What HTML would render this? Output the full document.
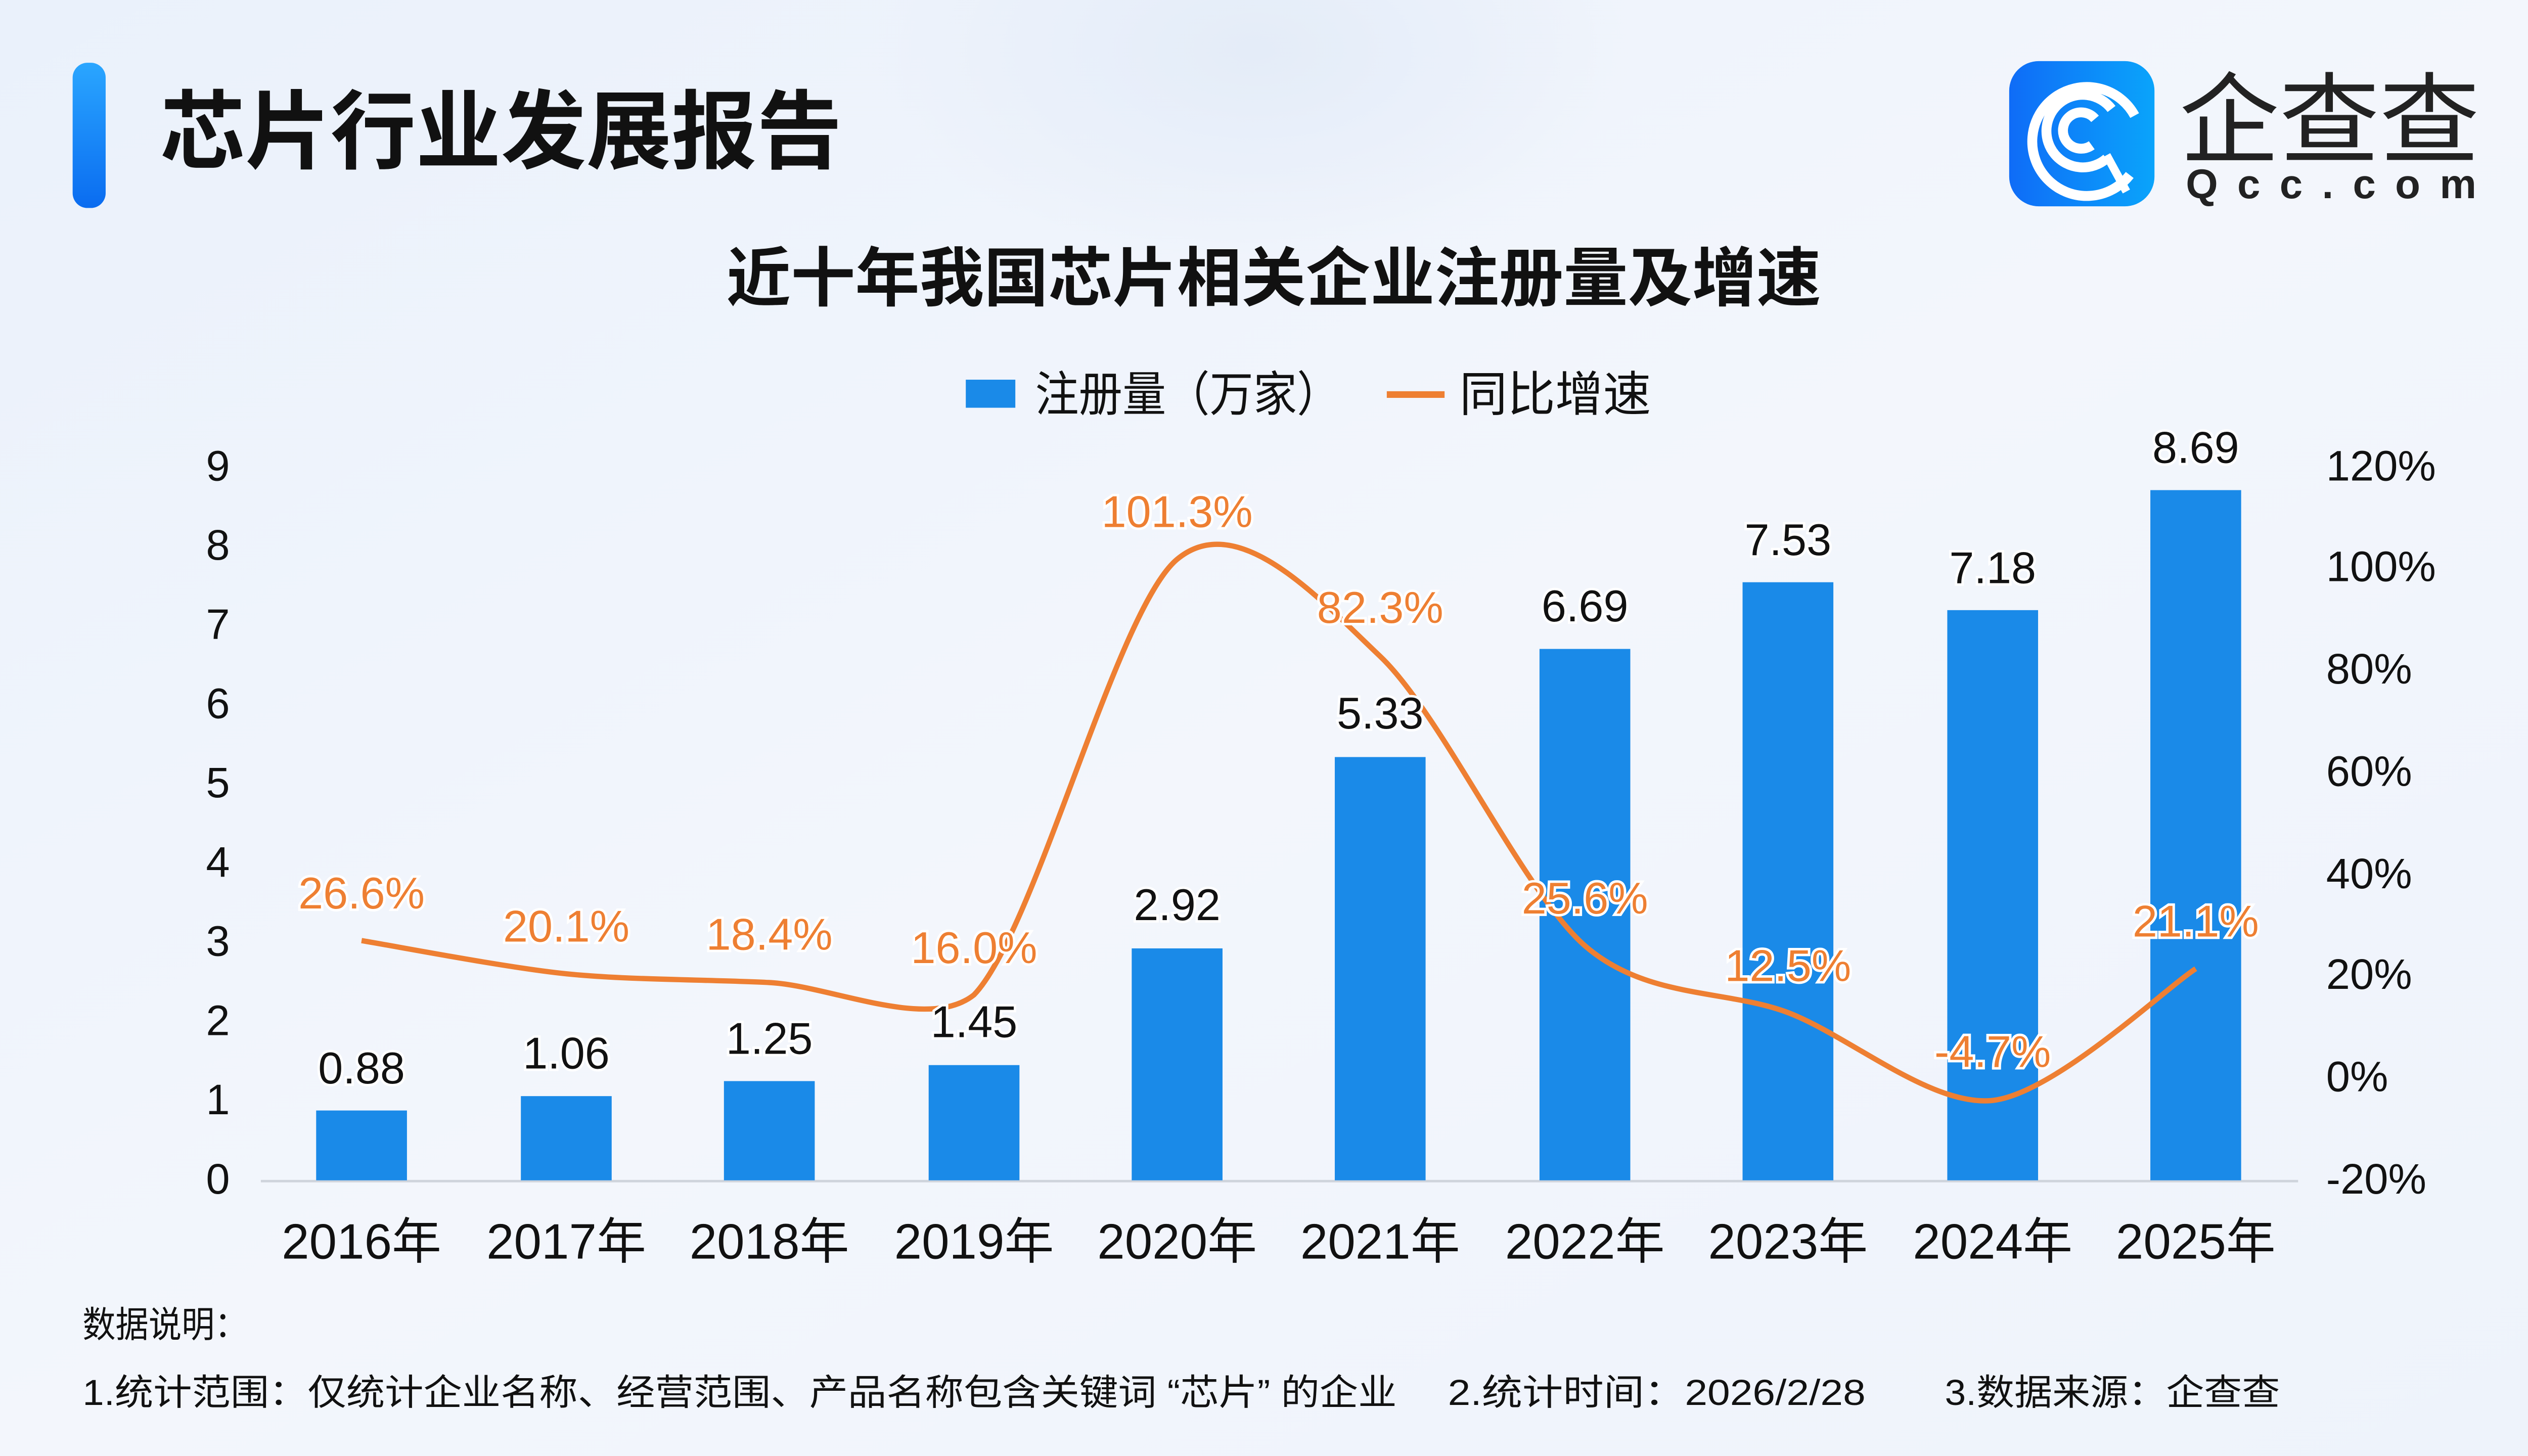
<!DOCTYPE html>
<html><head><meta charset="utf-8"><style>
html,body{margin:0;padding:0;width:5120px;height:2880px;overflow:hidden;background:#eef3fb}
svg{display:block}
text{font-family:"Liberation Sans","Noto Sans CJK SC",sans-serif}
</style></head><body>
<svg width="5120" height="2880" viewBox="0 0 1568 882" xmlns="http://www.w3.org/2000/svg">
<defs>
<linearGradient id="bg" x1="0" y1="0" x2="1" y2="1"><stop offset="0" stop-color="#eaf1fb"/><stop offset="0.5" stop-color="#f3f6fc"/><stop offset="1" stop-color="#eef3fb"/></linearGradient>
<radialGradient id="glow" cx="0.5" cy="0.5" r="0.5"><stop offset="0" stop-color="#e4ecf8"/><stop offset="1" stop-color="#e4ecf8" stop-opacity="0"/></radialGradient>
<linearGradient id="bar" x1="0" y1="0" x2="0" y2="1"><stop offset="0" stop-color="#2aa6ff"/><stop offset="1" stop-color="#0a6cf0"/></linearGradient>
<linearGradient id="logo" x1="0" y1="0" x2="1" y2="0"><stop offset="0" stop-color="#0f6cf7"/><stop offset="1" stop-color="#0aa4fb"/></linearGradient>
</defs>
<rect width="1568" height="882" fill="url(#bg)"/>
<ellipse cx="760" cy="30" rx="230" ry="130" fill="url(#glow)"/>
<rect x="44" y="38" width="20" height="88" rx="9" fill="url(#bar)"/>
<text x="97" y="98" font-size="52" font-weight="bold" fill="#111" textLength="413" lengthAdjust="spacingAndGlyphs">芯片行业发展报告</text>
<!-- logo -->
<rect x="1217" y="37" width="88" height="88" rx="18" fill="url(#logo)"/>
<g fill="none" stroke="#fff" stroke-width="6">
<path d="M1290 106 A33 33 0 1 1 1293 70"/>
<path d="M1276 96 A22 22 0 1 1 1279 66"/>
<path d="M1267 88 A11 11 0 1 1 1269 72"/>
<path d="M1276 94 L1288 116" stroke-width="5"/>
</g>
<text x="1320" y="94" font-size="60" fill="#222" textLength="182" lengthAdjust="spacingAndGlyphs">企查查</text>
<text x="1324" y="120" font-size="25" font-weight="bold" fill="#222" textLength="176" lengthAdjust="spacing">Qcc.com</text>
<!-- chart title -->
<text x="440" y="182" font-size="39" font-weight="bold" fill="#111" textLength="663" lengthAdjust="spacingAndGlyphs">近十年我国芯片相关企业注册量及增速</text>
<!-- legend -->
<rect x="585" y="230" width="30" height="17" fill="#1a8ae8"/>
<text x="627" y="249" font-size="29" fill="#111" textLength="185" lengthAdjust="spacingAndGlyphs">注册量（万家）</text>
<line x1="840" y1="239" x2="875" y2="239" stroke="#ee7f32" stroke-width="4"/>
<text x="884" y="249" font-size="29" fill="#111" textLength="116" lengthAdjust="spacingAndGlyphs">同比增速</text>
<!-- left axis -->
<g font-size="26" fill="#111" text-anchor="middle" dominant-baseline="central">
<text x="132" y="714">0</text><text x="132" y="666">1</text><text x="132" y="618">2</text><text x="132" y="570">3</text><text x="132" y="522">4</text><text x="132" y="474">5</text><text x="132" y="426">6</text><text x="132" y="378">7</text><text x="132" y="330">8</text><text x="132" y="282">9</text>
</g>
<g font-size="26" fill="#111" dominant-baseline="central">
<text x="1409" y="714">-20%</text><text x="1409" y="652">0%</text><text x="1409" y="590">20%</text><text x="1409" y="529">40%</text><text x="1409" y="467">60%</text><text x="1409" y="405">80%</text><text x="1409" y="343">100%</text><text x="1409" y="282">120%</text>
</g>
<line x1="158" y1="715.5" x2="1392" y2="715.5" stroke="#cfd4dc" stroke-width="1.5"/>
<!-- bars -->
<g fill="#1a8ae8">
<rect x="191.5" y="672.7" width="55" height="42.3"/>
<rect x="315.5" y="664.0" width="55" height="51.0"/>
<rect x="438.5" y="654.9" width="55" height="60.1"/>
<rect x="562.5" y="645.2" width="55" height="69.8"/>
<rect x="685.5" y="574.5" width="55" height="140.5"/>
<rect x="808.5" y="458.6" width="55" height="256.4"/>
<rect x="932.5" y="393.1" width="55" height="321.9"/>
<rect x="1055.5" y="352.7" width="55" height="362.3"/>
<rect x="1179.5" y="369.6" width="55" height="345.4"/>
<rect x="1302.5" y="296.9" width="55" height="418.1"/>
</g>
<!-- line -->
<path d="M219 569.8 C237.6 572.8 305.9 586.1 343 589.9 C380.1 593.7 428.9 593.3 466 595.2 C503.1 597.1 562 625 590 602.6 C627.1 564.1 676.1 369.6 713 338.8 C749.9 308 798.9 362.5 836 397.6 C873.1 432.7 922.9 540.5 960 572.9 C997.1 605.3 1045.9 599.3 1083 613.4 C1120.1 627.5 1169.9 670.6 1207 666.6 C1244.1 662.6 1311.5 598.8 1330 586.8" fill="none" stroke="#ee7f32" stroke-width="3.2"/>
<!-- value labels -->
<g font-size="27" fill="#111" text-anchor="middle" dominant-baseline="central" stroke="#fff" stroke-width="3" paint-order="stroke">
<text x="219" y="647">0.88</text><text x="343" y="638">1.06</text><text x="466" y="629">1.25</text><text x="590" y="619">1.45</text><text x="713" y="548">2.92</text><text x="836" y="432">5.33</text><text x="960" y="367">6.69</text><text x="1083" y="327">7.53</text><text x="1207" y="344">7.18</text><text x="1330" y="271">8.69</text>
</g>
<g font-size="27" fill="#ee7f32" text-anchor="middle" dominant-baseline="central" stroke="#fff" stroke-width="3" paint-order="stroke">
<text x="219" y="541">26.6%</text><text x="343" y="561">20.1%</text><text x="466" y="566">18.4%</text><text x="590" y="574">16.0%</text><text x="713" y="310">101.3%</text><text x="836" y="368">82.3%</text><text x="960" y="544">25.6%</text><text x="1083" y="585">12.5%</text><text x="1207" y="637">-4.7%</text><text x="1330" y="558">21.1%</text>
</g>
<!-- x labels -->
<g font-size="30" fill="#111" text-anchor="middle" dominant-baseline="central">
<text x="219" y="752">2016年</text><text x="343" y="752">2017年</text><text x="466" y="752">2018年</text><text x="590" y="752">2019年</text><text x="713" y="752">2020年</text><text x="836" y="752">2021年</text><text x="960" y="752">2022年</text><text x="1083" y="752">2023年</text><text x="1207" y="752">2024年</text><text x="1330" y="752">2025年</text>
</g>
<!-- notes -->
<text x="50" y="810" font-size="22" fill="#111" textLength="100" lengthAdjust="spacingAndGlyphs">数据说明：</text>
<text x="50" y="851" font-size="22" fill="#111" textLength="796" lengthAdjust="spacingAndGlyphs">1.统计范围：仅统计企业名称、经营范围、产品名称包含关键词 “芯片” 的企业</text>
<text x="877" y="851" font-size="22" fill="#111" textLength="253" lengthAdjust="spacingAndGlyphs">2.统计时间：2026/2/28</text>
<text x="1178" y="851" font-size="22" fill="#111" textLength="203" lengthAdjust="spacingAndGlyphs">3.数据来源：企查查</text>
</svg>
</body></html>
